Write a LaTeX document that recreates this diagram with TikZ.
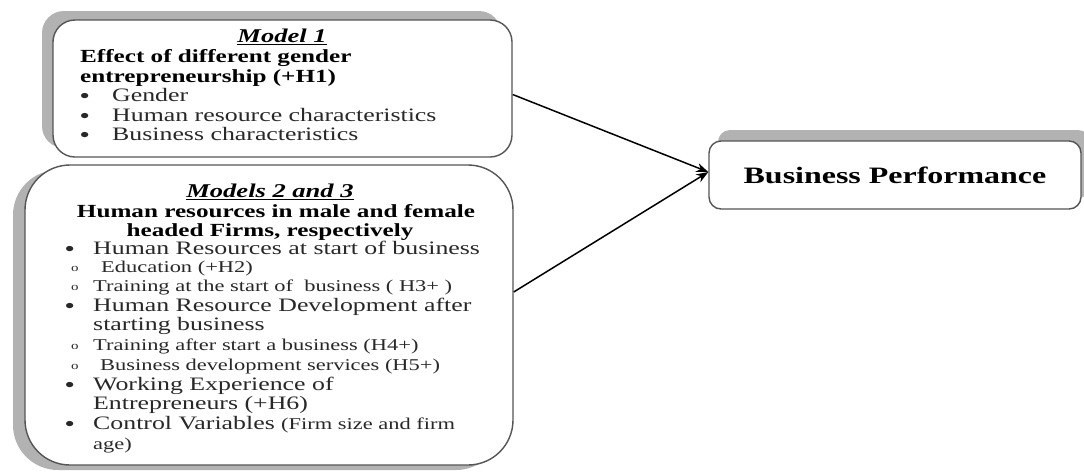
\documentclass[tikz,border=0pt]{standalone}
\usepackage{fontspec}
\setmainfont{Liberation Serif}[FakeStretch=1.36]
\usetikzlibrary{shapes,arrows.meta,positioning,calc,shadows}
\definecolor{mlframe}{RGB}{85,85,85}
\definecolor{mlshade}{RGB}{178,178,178}
\definecolor{mltext}{RGB}{40,40,40}
\newcommand{\bigsize}{\fontsize{19}{19.5}\selectfont}
\newcommand{\subsize}{\fontsize{16.5}{19.5}\selectfont}
\newcommand{\ring}{\smash{\raisebox{1.5pt}{\fontsize{11}{11}\selectfont o}}}
\newcommand{\dotmark}{\smash{\raisebox{-1pt}{\fontsize{19.5}{19.5}\selectfont\bfseries\textbullet}}}

\begin{document}
\begin{tikzpicture}[x=1pt, y=-1pt,
  panel/.style={draw=mlframe, line width=1.4pt, fill=white, rectangle},
  line/.style={anchor=west, inner sep=0pt, text height=13pt, text depth=4pt, text=mltext, font=\bigsize},
  headline/.style={inner sep=0pt, text height=13pt, text depth=4pt, text=black, font=\fontsize{18.5}{19.5}\selectfont\bfseries},
  flow/.style={-{Stealth[length=12pt,width=9pt]}, line width=1.5pt, black}]
  \useasboundingbox (0,0) rectangle (1084,472);

  \node[panel, minimum width=459pt, minimum height=137pt, rounded corners=22pt,
    drop shadow={shadow xshift=-11pt, shadow yshift=9pt, fill=mlshade, opacity=1}] (model1) at (282.5,88.5) {};
  \node[headline, font=\fontsize{19.5}{19.5}\selectfont\bfseries\itshape] (m1title) at (282,38) {\underline{Model 1}};
  \node[headline, anchor=west] (m1head1) at (80,58) {Effect of different gender};
  \node[headline, anchor=west] (m1head2) at (80,78) {entrepreneurship (+H1)};
  \node[line] (m1item1) at (80,97) {\makebox[32pt][l]{\dotmark}Gender};
  \node[line] (m1item2) at (80,117) {\makebox[32pt][l]{\dotmark}Human resource characteristics};
  \node[line] (m1item3) at (80,136) {\makebox[32pt][l]{\dotmark}Business characteristics};

  \node[panel, minimum width=488pt, minimum height=300pt, rounded corners=45pt,
    drop shadow={shadow xshift=-12pt, shadow yshift=-5pt, fill=mlshade, opacity=1}] (model2) at (269,315) {};
  \node[headline, font=\fontsize{19.5}{19.5}\selectfont\bfseries\itshape] (m2title) at (270,193) {\underline{Models 2 and 3}};
  \node[headline] (m2head1) at (276,213) {Human resources in male and female};
  \node[headline] (m2head2) at (270,232) {headed Firms, respectively};
  \node[line] (m2item1) at (65,250) {\makebox[28pt][l]{\dotmark}Human Resources at start of business};
  \node[line, font=\subsize] (m2sub1) at (71,268) {\makebox[30pt][l]{\ring}Education (+H2)};
  \node[line, font=\subsize] (m2sub2) at (71,287) {\makebox[22pt][l]{\ring}Training at the start of\ \ business ( H3+ )};
  \node[line] (m2item2) at (65,307) {\makebox[28pt][l]{\dotmark}Human Resource Development after};
  \node[line] (m2item2b) at (93,326) {starting business};
  \node[line, font=\subsize] (m2sub3) at (71,346) {\makebox[22pt][l]{\ring}Training after start a business (H4+)};
  \node[line, font=\subsize] (m2sub4) at (71,366) {\makebox[29pt][l]{\ring}Business development services (H5+)};
  \node[line] (m2item3) at (65,386) {\makebox[28pt][l]{\dotmark}Working Experience of};
  \node[line] (m2item3b) at (93,405) {Entrepreneurs (+H6)};
  \node[line] (m2item4) at (65,425) {\makebox[28pt][l]{\dotmark}Control Variables {\subsize(Firm size and firm}};
  \node[line, font=\subsize] (m2item4b) at (93,445) {age)};

  \node[panel, minimum width=372pt, minimum height=68pt, rounded corners=12pt,
    drop shadow={shadow xshift=9pt, shadow yshift=11pt, fill=mlshade, opacity=1},
    font=\fontsize{23.5}{24}\selectfont\bfseries] (perf) at (895,175) {Business Performance};

  \draw[flow] ([yshift=-6pt]model1.east) -- ([yshift=3pt]perf.west);
  \draw[flow] ([yshift=23pt]model2.east) -- ([yshift=3pt]perf.west);
\end{tikzpicture}
\end{document}
